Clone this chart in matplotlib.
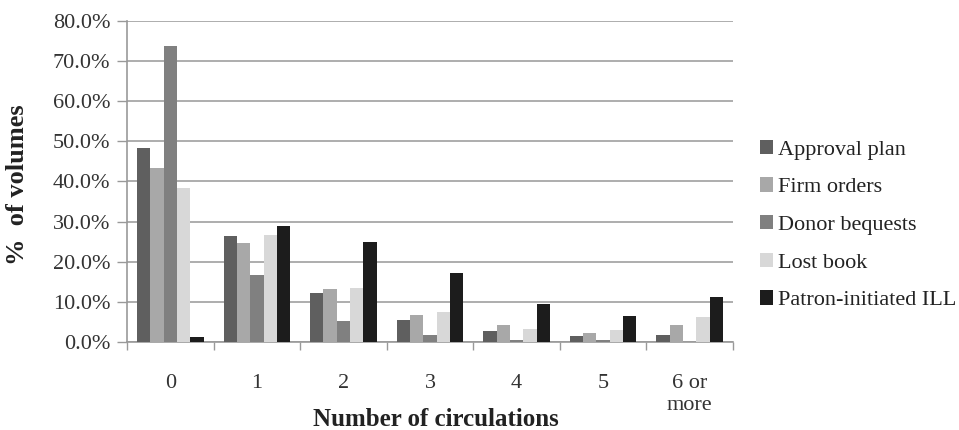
import matplotlib.pyplot as plt
import numpy as np

plt.rcParams['font.family'] = ['Liberation Serif', 'DejaVu Serif']

# Data
categories = ['0', '1', '2', '3', '4', '5', '6 or\nmore']
series_names = ['Approval plan', 'Firm orders', 'Donor bequests', 'Lost book', 'Patron-initiated ILL']
approval_plan = [48.3, 26.4, 12.2, 5.6, 2.7, 1.4, 1.8]
firm_orders = [43.4, 24.7, 13.1, 6.8, 4.2, 2.2, 4.2]
donor_bequests = [73.8, 16.8, 5.2, 1.8, 0.6, 0.4, 0.0]
lost_book = [38.3, 26.7, 13.4, 7.6, 3.2, 2.9, 6.2]
patron_ill = [1.2, 28.9, 24.8, 17.2, 9.4, 6.6, 11.2]
series = [approval_plan, firm_orders, donor_bequests, lost_book, patron_ill]
colors = ['#5f5f5f', '#a8a8a8', '#808080', '#d8d8d8', '#1c1c1c']

fig = plt.figure(figsize=(9.59, 4.3), dpi=100)
ax = fig.add_axes([127 / 959, 88 / 430, 606 / 959, 321 / 430])

x = np.arange(len(categories))
width = 0.154
for i, (vals, name, c) in enumerate(zip(series, series_names, colors)):
    ax.bar(x + (i - 2) * width, vals, width, color=c, label=name, zorder=3)

ax.set_xlim(-0.5, len(categories) - 0.5)
ax.set_ylim(0, 80)
ax.set_yticks(np.arange(0, 81, 10))
ax.set_yticklabels([f'{v:.1f}%' for v in np.arange(0, 81, 10)], fontsize=16, color='#333333')
ax.set_xticks(x)
ax.set_xticklabels(categories, fontsize=16, color='#333333', linespacing=1.2, va='top')
ax.set_xticks(np.arange(-0.5, len(categories)), minor=True)
ax.tick_params(axis='x', which='major', length=0, pad=23)
ax.tick_params(axis='x', which='minor', length=6, color='#999999', width=1)
ax.tick_params(axis='y', length=7, color='#999999', width=1, pad=5)

ax.grid(axis='y', color='#a0a0a0', linewidth=1.2, zorder=0)
for side in ['top', 'right']:
    ax.spines[side].set_visible(False)
for side in ['left', 'bottom']:
    ax.spines[side].set_color('#999999')
    ax.spines[side].set_linewidth(1.2)

fig.text(436 / 959, 1 - 419 / 430, 'Number of circulations', fontsize=18, fontweight='bold',
         color='#222222', ha='center', va='center')
fig.text(18 / 959, 1 - 185 / 430, '%  of volumes', fontsize=19, fontweight='bold',
         color='#222222', ha='center', va='center', rotation=90)

leg = fig.legend(loc='center left', bbox_to_anchor=(760 / 959, 1 - 225 / 430), frameon=False,
                 fontsize=16, handlelength=0.6, handleheight=0.6, handletextpad=0.2,
                 labelspacing=0.8, borderpad=0, borderaxespad=0)
for t in leg.get_texts():
    t.set_color('#222222')

fig.savefig('out.png', dpi=100)
